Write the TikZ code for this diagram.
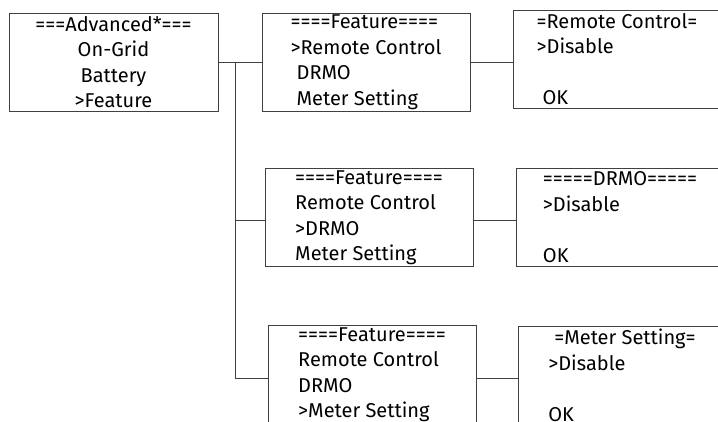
\documentclass[tikz,border=0pt]{standalone}
\usepackage{fontspec}
\setmainfont{Fira Sans}
\usepackage{tikz}
\usetikzlibrary{positioning,calc}
\definecolor{frame}{RGB}{64,64,64}
\newcommand{\mnuind}{\hspace*{0.3em}}

\begin{document}
\begin{tikzpicture}[x=1pt,y=-1pt,
  menu/.style={draw=frame,line width=0.8pt,minimum width=208pt,minimum height=98pt,inner sep=0pt,align=left,font=\fontsize{20}{25.5}\selectfont},
  wire/.style={draw=frame,line width=0.8pt}
]
\fill[white] (0,0) rectangle (718,421);
\useasboundingbox (0,0) rectangle (718,421);
\clip (0,0) rectangle (718,421);

\node[menu,align=center,minimum width=209pt] (adv) at (113.5,62) {===Advanced*===\\On-Grid\\Battery\\>Feature};
\node[menu] (feat1) at (366,62)    {====Feature====\\>Remote Control\\\mnuind DRMO\\\mnuind Meter Setting};
\node[menu] (rc)    at (617,59)    {=Remote Control=\\>Disable\\\strut\\\mnuind OK};
\node[menu] (feat2) at (369,217.5) {====Feature====\\Remote Control\\>DRMO\\Meter Setting};
\node[menu] (drmo)  at (620,217)   {=====DRMO=====\\>Disable\\\strut\\OK};
\node[menu] (feat3) at (372,374.5) {====Feature====\\Remote Control\\DRMO\\>Meter Setting};
\node[menu] (meter) at (622,375.5) {\mnuind=Meter Setting=\\>Disable\\\strut\\OK};

% branch from the Advanced menu
\coordinate (split) at (235,62);
\draw[wire] (adv.east) -- (feat1.west);
\draw[wire] (split) |- ([yshift=-2.5pt]feat2.west);
\draw[wire] (split) |- ([yshift=-3.5pt]feat3.west);
% sub menus
\draw[wire] (feat1.east) -- (feat1.east -| rc.west);
\draw[wire] ([yshift=-2.5pt]feat2.east) -- ([yshift=-2.5pt]feat2.east -| drmo.west);
\draw[wire] ([yshift=-3.5pt]feat3.east) -- ([yshift=-3.5pt]feat3.east -| meter.west);
\end{tikzpicture}
\end{document}
